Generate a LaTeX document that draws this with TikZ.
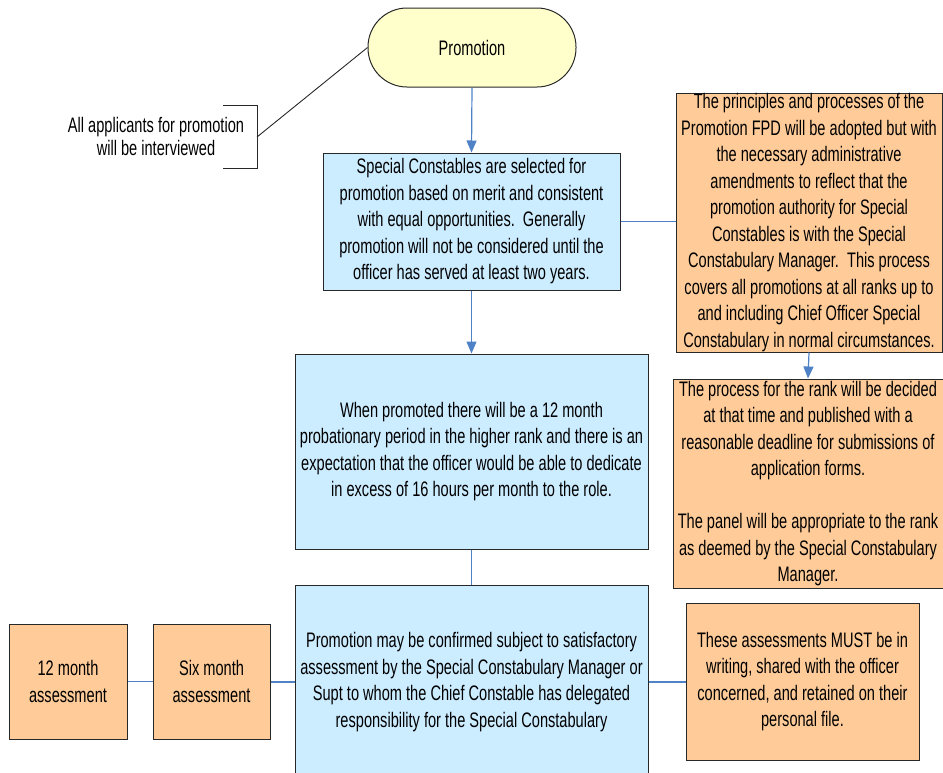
\documentclass[tikz,border=0pt]{standalone}
\usepackage{fontspec}
\setmainfont{Liberation Sans}[FakeStretch=0.695]
\usetikzlibrary{arrows.meta,calc}
\definecolor{bluefill}{RGB}{204,236,255}
\definecolor{orangefill}{RGB}{255,204,153}
\definecolor{yellowfill}{RGB}{255,255,204}
\definecolor{linkblue}{RGB}{79,129,199}
\definecolor{edge}{RGB}{40,40,40}
\begin{document}
\begin{tikzpicture}[x=1pt,y=-1pt,
  txt/.style={font=\fontsize{21}{26.5}\selectfont, align=center, inner sep=0pt},
  bluebox/.style={txt, draw=edge, line width=1pt, fill=bluefill},
  orangebox/.style={txt, draw=edge, line width=1pt, fill=orangefill},
  term/.style={txt, draw=edge, line width=1pt, fill=yellowfill, rounded corners=39pt},
  link/.style={draw=linkblue, line width=1.2pt},
  arrowlink/.style={link, -{Triangle[length=12pt,width=10pt]}},
  note/.style={draw=edge, line width=0.9pt}
]
\useasboundingbox (0,0) rectangle (943,772);
\clip (0,0) rectangle (943,772);

\node[term, minimum width=208pt, minimum height=79pt] (promo) at (472,47.5) {Promotion};

\node[bluebox, minimum width=297pt, minimum height=137pt] (select) at (471.5,221.5)
  {Special Constables are selected for\\promotion based on merit and consistent\\with equal opportunities.\ \ Generally\\promotion will not be considered until the\\officer has served at least two years.};

\node[bluebox, minimum width=353pt, minimum height=195pt] (prob) at (471.5,451.5)
  {When promoted there will be a 12 month\\probationary period in the higher rank and there is an\\expectation that the officer would be able to dedicate\\in excess of 16 hours per month to the role.};

\node[bluebox, minimum width=353pt, minimum height=194pt] (confirm) at (471.5,682)
  {Promotion may be confirmed subject to satisfactory\\assessment by the Special Constabulary Manager or\\Supt to whom the Chief Constable has delegated\\responsibility for the Special Constabulary};

\node[orangebox, minimum width=266pt, minimum height=259pt] (principles) at (809,222.5)
  {The principles and processes of the\\Promotion FPD will be adopted but with\\the necessary administrative\\amendments to reflect that the\\promotion authority for Special\\Constables is with the Special\\Constabulary Manager.\ \ This process\\covers all promotions at all ranks up to\\and including Chief Officer Special\\Constabulary in normal circumstances.};

\node[orangebox, minimum width=270pt, minimum height=209pt] (process) at (808,483.5)
  {The process for the rank will be decided\\at that time and published with a\\reasonable deadline for submissions of\\application forms.\\[26.5pt]The panel will be appropriate to the rank\\as deemed by the Special Constabulary\\Manager.};

\node[orangebox, minimum width=233pt, minimum height=157pt] (writing) at (802.5,681.5)
  {These assessments MUST be in\\writing, shared with the officer\\concerned, and retained on their\\personal file.};

\node[orangebox, minimum width=118pt, minimum height=115pt] (twelve) at (68,681.5)
  {12 month\\assessment};
\node[orangebox, minimum width=117pt, minimum height=115pt] (six) at (211.5,681.5)
  {Six month\\assessment};

\node[txt, font=\fontsize{21}{23}\selectfont] (ann) at (156,136.5)
  {All applicants for promotion\\will be interviewed};

% connectors
\draw[arrowlink] (promo.south) -- (select.north);
\draw[arrowlink] (select.south) -- (prob.north);
\draw[link] (prob.south) -- (confirm.north);
\draw[link] (select.east) -- (select.east -| principles.west);
\draw[arrowlink] (principles.south) -- (process.north);
\draw[link] (confirm.east) -- (confirm.east -| writing.west);
\draw[link] (confirm.west) -- (confirm.west -| six.east);
\draw[link] (six.west) -- (twelve.east);

% annotation bracket
\coordinate (bt) at (223,105);
\coordinate (bb) at (223,168);
\coordinate (bm) at (257,137);
\draw[note] (bt) -- (bt -| bm) -- (bb -| bm) -- (bb);
\draw[note] (bm) -- (promo.west);
\end{tikzpicture}
\end{document}
